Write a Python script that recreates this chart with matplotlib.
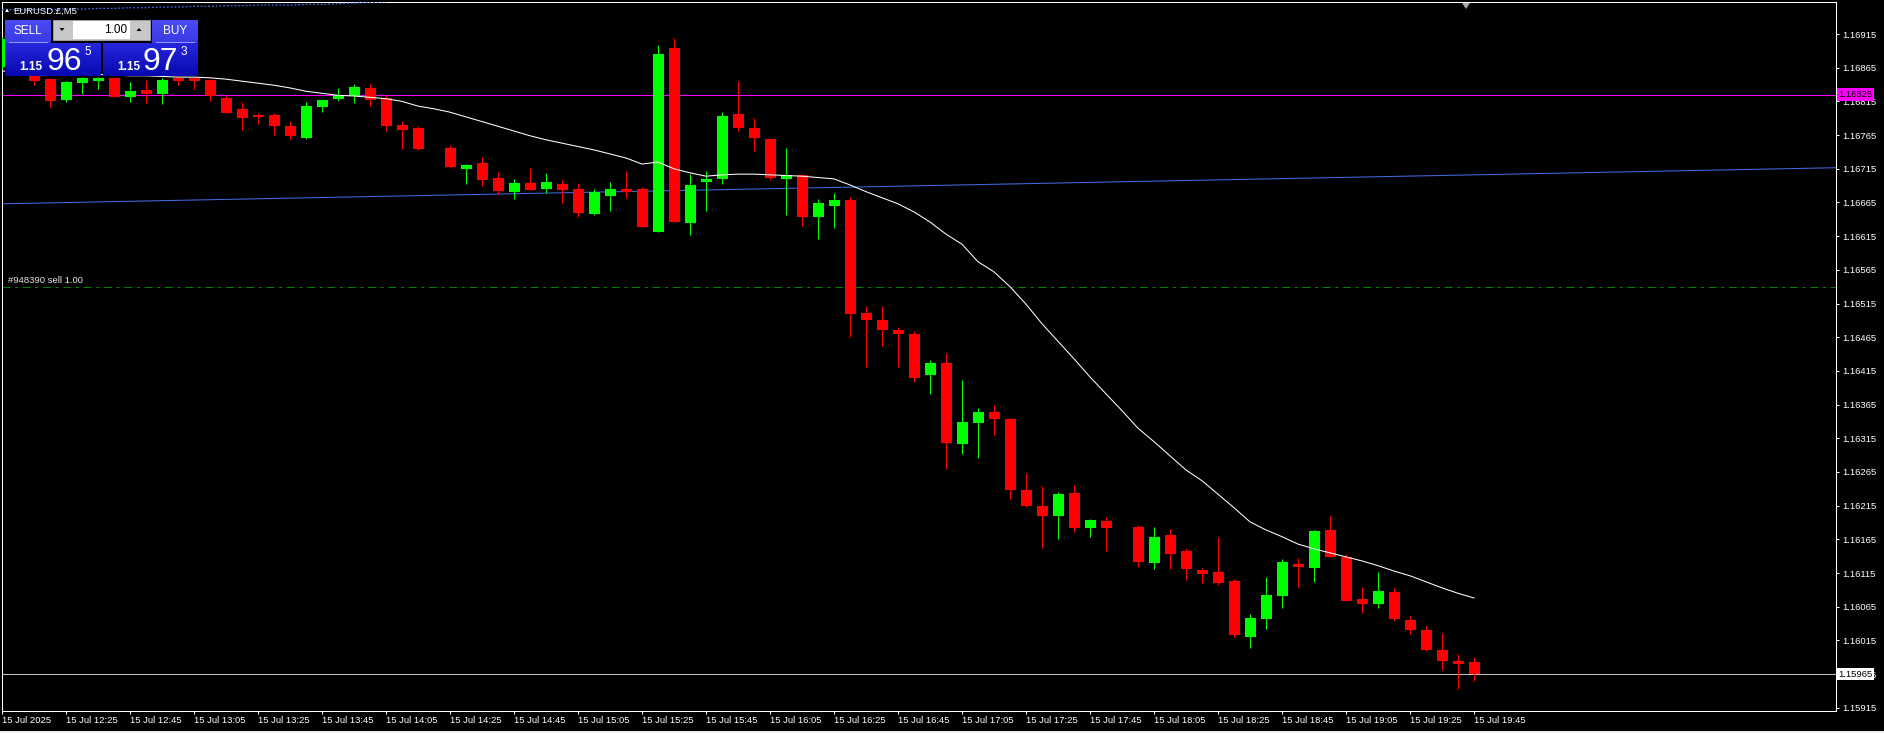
import matplotlib.pyplot as plt
import numpy as np
import pandas as pd
from matplotlib.patches import Rectangle, Polygon

plt.rcParams['font.family'] = ['Liberation Sans', 'DejaVu Sans']

# EURUSD M5 bars, 15 Jul 2025, first bar 12:05
opens = [1.16866, 1.16899, 1.16856, 1.16848, 1.16817, 1.16842, 1.16845, 1.16850, 1.16822, 1.16832,
         1.16826, 1.16850, 1.16850, 1.16847, 1.16820, 1.16804, 1.16795, 1.16795, 1.16778, 1.16761,
         1.16807, 1.16819, 1.16823, 1.16835, 1.16820, 1.16780, 1.16776, 1.16745, 1.16746, 1.16715,
         1.16724, 1.16701, 1.16681, 1.16694, 1.16685, 1.16692, 1.16685, 1.16648, 1.16675, 1.16685,
         1.16685, 1.16621, 1.16894, 1.16635, 1.16695, 1.16700, 1.16796, 1.16776, 1.16759, 1.16700,
         1.16706, 1.16643, 1.16660, 1.16669, 1.16501, 1.16491, 1.16476, 1.16470, 1.16409, 1.16427,
         1.16307, 1.16338, 1.16354, 1.16344, 1.16238, 1.16215, 1.16200, 1.16234, 1.16182, 1.16192,
         1.16183, 1.16183, 1.16130, 1.16172, 1.16148, 1.16120, 1.16117, 1.16103, 1.16020, 1.16047,
         1.16081, 1.16128, 1.16123, 1.16179, 1.16139, 1.16077, 1.16069, 1.16087, 1.16045, 1.16031,
         1.16001, 1.15985, 1.15983]
highs = [1.16911, 1.16906, 1.16859, 1.16850, 1.16845, 1.16851, 1.16851, 1.16851, 1.16844, 1.16847,
         1.16850, 1.16851, 1.16851, 1.16848, 1.16824, 1.16814, 1.16798, 1.16798, 1.16786, 1.16814,
         1.16817, 1.16835, 1.16841, 1.16841, 1.16824, 1.16786, 1.16778, 1.16745, 1.16750, 1.16722,
         1.16732, 1.16710, 1.16700, 1.16716, 1.16709, 1.16698, 1.16694, 1.16685, 1.16695, 1.16712,
         1.16688, 1.16899, 1.16909, 1.16707, 1.16712, 1.16799, 1.16845, 1.16790, 1.16759, 1.16746,
         1.16706, 1.16670, 1.16679, 1.16673, 1.16511, 1.16511, 1.16480, 1.16474, 1.16431, 1.16442,
         1.16402, 1.16360, 1.16364, 1.16345, 1.16264, 1.16244, 1.16235, 1.16246, 1.16195, 1.16198,
         1.16183, 1.16186, 1.16183, 1.16180, 1.16152, 1.16123, 1.16169, 1.16106, 1.16054, 1.16109,
         1.16136, 1.16137, 1.16179, 1.16200, 1.16143, 1.16094, 1.16117, 1.16093, 1.16051, 1.16036,
         1.16026, 1.15995, 1.15990]
lows = [1.16863, 1.16862, 1.16839, 1.16807, 1.16814, 1.16826, 1.16833, 1.16822, 1.16814, 1.16813,
        1.16811, 1.16839, 1.16833, 1.16816, 1.16798, 1.16773, 1.16781, 1.16765, 1.16759, 1.16759,
        1.16799, 1.16816, 1.16813, 1.16808, 1.16771, 1.16744, 1.16743, 1.16745, 1.16716, 1.16692,
        1.16689, 1.16678, 1.16670, 1.16683, 1.16679, 1.16664, 1.16643, 1.16646, 1.16652, 1.16672,
        1.16629, 1.16621, 1.16636, 1.16617, 1.16652, 1.16692, 1.16771, 1.16741, 1.16698, 1.16646,
        1.16630, 1.16611, 1.16627, 1.16465, 1.16421, 1.16452, 1.16421, 1.16399, 1.16381, 1.16269,
        1.16292, 1.16286, 1.16320, 1.16225, 1.16213, 1.16152, 1.16166, 1.16176, 1.16169, 1.16148,
        1.16183, 1.16124, 1.16121, 1.16121, 1.16105, 1.16100, 1.16097, 1.16020, 1.16004, 1.16032,
        1.16063, 1.16094, 1.16102, 1.16139, 1.16074, 1.16056, 1.16063, 1.16044, 1.16025, 1.15999,
        1.15971, 1.15943, 1.15955]
closes = [1.16908, 1.16876, 1.16845, 1.16816, 1.16844, 1.16850, 1.16850, 1.16822, 1.16830, 1.16826,
          1.16847, 1.16845, 1.16845, 1.16823, 1.16798, 1.16790, 1.16792, 1.16778, 1.16764, 1.16808,
          1.16817, 1.16824, 1.16836, 1.16817, 1.16778, 1.16773, 1.16744, 1.16745, 1.16718, 1.16721,
          1.16698, 1.16682, 1.16694, 1.16683, 1.16695, 1.16683, 1.16649, 1.16681, 1.16685, 1.16681,
          1.16629, 1.16885, 1.16636, 1.16691, 1.16700, 1.16793, 1.16776, 1.16761, 1.16701, 1.16706,
          1.16643, 1.16664, 1.16669, 1.16499, 1.16491, 1.16476, 1.16470, 1.16404, 1.16427, 1.16308,
          1.16339, 1.16354, 1.16344, 1.16238, 1.16215, 1.16200, 1.16232, 1.16182, 1.16194, 1.16182,
          1.16183, 1.16131, 1.16169, 1.16143, 1.16121, 1.16114, 1.16100, 1.16023, 1.16048, 1.16082,
          1.16131, 1.16124, 1.16177, 1.16139, 1.16074, 1.16069, 1.16088, 1.16047, 1.16031, 1.16001,
          1.15985, 1.15980, 1.15965]

# moving average (white line)
ma_values = [1.16860, 1.16859, 1.16858, 1.16857, 1.16857, 1.16856, 1.16855, 1.16854, 1.16853, 1.16853,
             1.16852, 1.16851, 1.16851, 1.16850, 1.16848, 1.16845, 1.16842, 1.16839, 1.16835, 1.16830,
             1.16827, 1.16824, 1.16823, 1.16821, 1.16819, 1.16815, 1.16808, 1.16804, 1.16799, 1.16792,
             1.16785, 1.16778, 1.16771, 1.16764, 1.16758, 1.16753, 1.16748, 1.16743, 1.16737, 1.16731,
             1.16722, 1.16725, 1.16715, 1.16709, 1.16704, 1.16706, 1.16707, 1.16707, 1.16706, 1.16705,
             1.16704, 1.16702, 1.16700, 1.16691, 1.16681, 1.16672, 1.16663, 1.16651, 1.16636, 1.16618,
             1.16603, 1.16577, 1.16562, 1.16540, 1.16514, 1.16485, 1.16459, 1.16433, 1.16406, 1.16381,
             1.16356, 1.16330, 1.16310, 1.16289, 1.16268, 1.16252, 1.16232, 1.16212, 1.16191, 1.16179,
             1.16169, 1.16158, 1.16151, 1.16145, 1.16139, 1.16133, 1.16126, 1.16118, 1.16111, 1.16102,
             1.16093, 1.16085, 1.16078]

# dotted blue indicator leaving the top of the window
upper_line = [1.16951, 1.16951, 1.16951, 1.16951, 1.16952, 1.16952, 1.16953, 1.16953, 1.16954, 1.16954,
              1.16955, 1.16955, 1.16956, 1.16956, 1.16957, 1.16957, 1.16958, 1.16958, 1.16958, 1.16959,
              1.16959, 1.16960, 1.16961, 1.16962, 1.16963]

# trend line anchors (bar index, price)
trend_a = (0, 1.16663)
trend_b = (92, 1.16706)

level_magenta = 1.16825
level_order = 1.16540
bid_price = 1.15965
order_text = '#948390 sell 1.00'

y_ticks = np.arange(1.15915, 1.169151, 0.0005)

times = pd.date_range('2025-07-15 12:05', periods=len(opens), freq='5min')

o = np.array(opens)
h = np.array(highs)
l = np.array(lows)
c = np.array(closes)
idx = np.arange(len(o))

W, H = 1884, 733
fig = plt.figure(figsize=(W / 100, H / 100), dpi=100, facecolor='black')
ax = fig.add_axes([2 / W, 22 / H, 1834 / W, 709 / H])
ax.set_facecolor('black')

# colours like MT4: bull lime, bear red, doji uses (black) line colour
colores = []
for oo, cc in zip(o, c):
    if cc > oo:
        colores.append('#00FF00')
    elif cc < oo:
        colores.append('#FF0000')
    else:
        colores.append('black')

ax.vlines(idx, l, h, colors=colores, linewidth=0.75, zorder=3)
ax.bar(idx, np.abs(c - o), bottom=np.minimum(o, c), width=11 / 16, color=colores,
       linewidth=0, zorder=3)

ax.plot(idx, ma_values, color='white', linewidth=0.75, zorder=4)
ax.plot(idx[:len(upper_line)], upper_line, color='#4169E1', linewidth=0.9,
        linestyle=(0, (1.5, 1.5)), zorder=4)
ax.axline(trend_a, trend_b, color='#4169E1', linewidth=0.75, zorder=2)

ax.axhline(level_magenta, color='#FF00FF', linewidth=0.75, zorder=2)
ax.axhline(level_order, color='#008000', linewidth=0.75, linestyle=(0, (7.5, 4.5, 3, 4.5)), zorder=2)
ax.axhline(bid_price, color='#C0C0C0', linewidth=0.75, zorder=2)

ax.set_xlim(0, 1834 / 16)
ax.set_ylim(1.159103, 1.169625)

# axes and ticks
for s in ax.spines.values():
    s.set_edgecolor('white')
    s.set_linewidth(0.75)

ax.yaxis.tick_right()
ax.set_yticks(y_ticks)
ax.set_yticklabels([f'{v:.5f}' for v in y_ticks])
ax.tick_params(axis='y', direction='out', length=2.2, width=0.75, color='white',
               labelcolor='white', labelsize=6.8, pad=2)

xt = idx[::4]
xl = []
for i in xt:
    if i == 0:
        xl.append(times[i].strftime('%d %b %Y'))
    else:
        xl.append(times[i].strftime('%d %b %H:%M'))
ax.set_xticks(xt)
ax.set_xticklabels(xl, ha='left')
ax.tick_params(axis='x', direction='out', length=2.2, width=0.75, color='white',
               labelcolor='white', labelsize=6.8, pad=1.5)

# price labels on the right scale
yt = ax.get_yaxis_transform()
ax.text(1.0012, level_magenta, f'{level_magenta:.5f}', transform=yt, ha='left', va='center',
        fontsize=6.8, color='black', zorder=6, clip_on=False,
        bbox=dict(boxstyle='square,pad=0.18', fc='#FF00FF', ec='none'))
ax.text(1.0012, bid_price, f'{bid_price:.5f}', transform=yt, ha='left', va='center',
        fontsize=6.8, color='black', zorder=6, clip_on=False,
        bbox=dict(boxstyle='square,pad=0.18', fc='white', ec='none'))
ax.annotate(order_text, (0.003, level_order), xycoords=yt, xytext=(0, 1.5),
            textcoords='offset points', ha='left', va='bottom', fontsize=6.8, color='#E6E6E6')

# overlay in pixel coordinates for the one click trading panel
ov = fig.add_axes([0, 0, 1, 1])
ov.patch.set_alpha(0)
ov.axis('off')


def caja(x0, y0, x1, y1, c_top, c_bot):
    a = np.array(plt.matplotlib.colors.to_rgb(c_top))
    b = np.array(plt.matplotlib.colors.to_rgb(c_bot))
    t = np.linspace(0, 1, 32)[:, None, None]
    img = a * (1 - t) + b * t
    ov.imshow(img, extent=(x0, x1, y1, y0), aspect='auto', interpolation='bilinear', zorder=2)


caja(5, 20, 51, 43, '#4B4BF2', '#3A3AE6')
caja(152, 20, 198, 43, '#4B4BF2', '#3A3AE6')
caja(5, 43, 101, 76, '#2626DC', '#0808B0')
caja(103, 43, 198, 76, '#2626DC', '#0808B0')
ov.plot([9, 47], [41.5, 41.5], color='#9A9AFF', linewidth=0.7, zorder=3)
ov.plot([156, 194], [41.5, 41.5], color='#9A9AFF', linewidth=0.7, zorder=3)

ov.add_patch(Rectangle((53, 20), 97, 20, fc='#C8C8C8', ec='#A0A0A0', lw=0.7, zorder=2))
ov.add_patch(Rectangle((73, 21), 57, 18, fc='white', ec='none', zorder=3))
ov.add_patch(Polygon([(59.5, 28), (64.5, 28), (62, 31)], closed=True, fc='black', zorder=4))
ov.add_patch(Polygon([(136.5, 31), (141.5, 31), (139, 28)], closed=True, fc='black', zorder=4))
ov.text(127, 30, '1.00', ha='right', va='center', fontsize=8.5, color='black', zorder=5)

ov.text(28, 31, 'SELL', ha='center', va='center', fontsize=8.5, color='white', zorder=5)
ov.text(175, 31, 'BUY', ha='center', va='center', fontsize=8.5, color='white', zorder=5)

ov.text(19, 70, '1.15', ha='left', va='baseline', fontsize=8.5, fontweight='bold', color='white', zorder=5)
ov.text(47, 70, '96', ha='left', va='baseline', fontsize=23, color='white', zorder=5)
ov.text(84, 46, '5', ha='left', va='top', fontsize=8.5, color='white', zorder=5)
ov.text(117, 70, '1.15', ha='left', va='baseline', fontsize=8.5, fontweight='bold', color='white', zorder=5)
ov.text(143, 70, '97', ha='left', va='baseline', fontsize=23, color='white', zorder=5)
ov.text(181, 46, '3', ha='left', va='top', fontsize=8.5, color='white', zorder=5)

ov.text(4, 11, '\u25b2', ha='left', va='center', fontsize=4.5, color='white', zorder=5)
ov.text(13, 11, 'EURUSD.\u00a3,M5', ha='left', va='center', fontsize=6.8, color='white', zorder=5)

# chart shift marker and window edge
ov.add_patch(Polygon([(1462, 3), (1470, 3), (1466, 9)], closed=True, fc='#A8A8A8', zorder=5))
ov.add_patch(Rectangle((0, 730.5), W, 2.5, fc='#F0F0F0', ec='none', zorder=5))

ov.set_xlim(0, W)
ov.set_ylim(H, 0)

plt.savefig('out.png', dpi=100, facecolor='black')
